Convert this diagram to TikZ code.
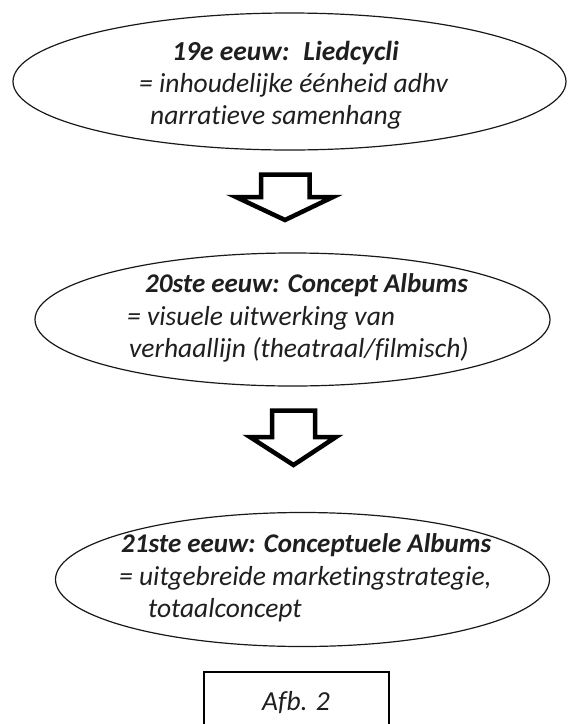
\documentclass[tikz,border=0pt]{standalone}
\usepackage{fontspec}
\setmainfont{Carlito}[Ligatures={NoCommon}]
\usetikzlibrary{shapes.geometric}
\tikzset{
  oval/.style={ellipse, draw=black!90, line width=1.2pt, inner sep=0pt},
  txt/.style={anchor=base west, inner sep=0pt, text=black!88, font=\fontsize{27.5}{33}\selectfont\itshape},
  head/.style={txt, font=\fontsize{27.5}{33}\selectfont\bfseries\itshape},
  blockarrow/.style={draw=black, line width=4.5pt, line join=miter, fill=white},
  caption/.style={draw=black, line width=1.3pt}
}
\begin{document}
\begin{tikzpicture}[x=1pt,y=-1pt]
\clip (0,0) rectangle (568,724);
\fill[white] (0,0) rectangle (568,724);
% ellipses
\node[oval, minimum width=553pt, minimum height=137pt] (e1) at (289.5,81.5) {};
\node[oval, minimum width=515pt, minimum height=133pt] (e2) at (292.5,319.5) {};
\node[oval, minimum width=494pt, minimum height=134pt] (e3) at (302.5,579.5) {};
% texts ellipse 1
\node[head] (t11) at (172,60) {19e eeuw:\hspace{14pt}Liedcycli};
\node[txt] (t12) at (139,92) {= inhoudelijke éénheid adhv};
\node[txt] (t13) at (150,124) {narratieve samenhang};
% texts ellipse 2
\node[head, font=\fontsize{27}{33}\selectfont\bfseries\itshape] (t21) at (145,292) {20ste eeuw: Concept Albums};
\node[txt] (t22) at (127,325) {= visuele uitwerking van};
\node[txt] (t23) at (129,357) {verhaallijn (theatraal/filmisch)};
% texts ellipse 3
\node[head, font=\fontsize{27}{33}\selectfont\bfseries\itshape] (t31) at (121,552) {21ste eeuw: Conceptuele Albums};
\node[txt] (t32) at (119,585) {= uitgebreide marketingstrategie,};
\node[txt] (t33) at (148,617) {totaalconcept};
% block arrows
\draw[blockarrow] (261,174.5) -- (309.5,174.5) -- (309.5,197) -- (333,197) -- (285,220) -- (236,197) -- (261,197) -- cycle;
\draw[blockarrow] (272,410.5) -- (315,410.5) -- (315,437) -- (336,437) -- (293.5,465) -- (250,437) -- (272,437) -- cycle;
% caption box
\draw[caption] (204,672) -- (389,672) -- (389,740) -- (204,740) -- cycle;
\node[txt, anchor=base] (cap) at (296,710) {Afb. 2};
\end{tikzpicture}
\end{document}
